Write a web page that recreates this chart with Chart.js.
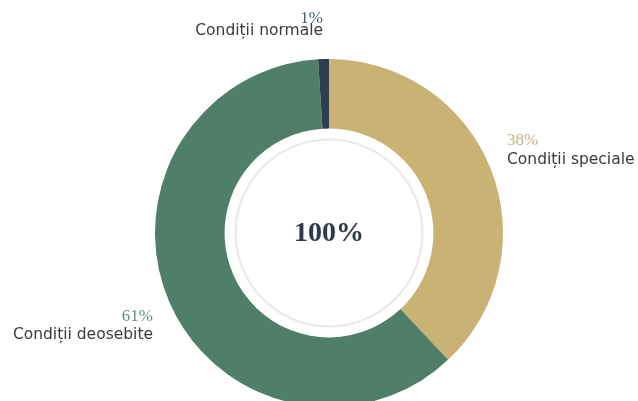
<!DOCTYPE html>
<html>
<head>
<meta charset="utf-8">
<script src="https://cdn.jsdelivr.net/npm/chart.js@4/dist/chart.umd.min.js"></script>
<style>
  html, body { margin: 0; padding: 0; background: #ffffff; overflow: hidden; }
  #wrap { position: absolute; left: 0; top: 0; width: 638px; height: 420px; }
</style>
</head>
<body>
<div id="wrap"><canvas id="c"></canvas></div>
<script>
const categories = ["Condiții speciale", "Condiții deosebite", "Condiții normale"];
const values = [38, 61, 1];
const percentLabels = ["38%", "61%", "1%"];
const centerLabel = "100%";
const sliceColors = ["#c8b374", "#4f7f69", "#2e3e4f"];
const percentColors = ["#c9b47c", "#6a8f7e", "#4d5c6d"];

const labelPlugin = {
  id: 'labels',
  afterDraw(chart) {
    const ctx = chart.ctx;
    const meta = chart.getDatasetMeta(0);
    const arc = meta.data[0];
    const cx = arc.x, cy = arc.y;
    const R = arc.outerRadius;
    const r = arc.innerRadius;
    ctx.save();
    // inner grey ring
    ctx.beginPath();
    ctx.arc(cx, cy, r - 11, 0, Math.PI * 2);
    ctx.strokeStyle = '#e8e8e8';
    ctx.lineWidth = 2;
    ctx.stroke();
    // centre text
    ctx.fillStyle = '#2d3a4a';
    ctx.font = 'bold 28px "Liberation Serif", serif';
    ctx.textAlign = 'center';
    ctx.textBaseline = 'middle';
    ctx.fillText(centerLabel, cx, cy + 1);
    // slice labels
    const spots = [
      { x: cx + R + 4, y1: cy - 92, y2: cy - 73, align: 'left' },
      { x: cx - R - 2, y1: cy + 84, y2: cy + 102, align: 'right' },
      { x: cx - 6, y1: cy - 214, y2: cy - 202, align: 'right' }
    ];
    for (let i = 0; i < categories.length; i++) {
      const s = spots[i];
      ctx.textAlign = s.align;
      ctx.textBaseline = 'middle';
      ctx.font = '17px "Liberation Serif", serif';
      ctx.fillStyle = percentColors[i];
      ctx.fillText(percentLabels[i], s.x, s.y1);
      ctx.font = '15.5px "DejaVu Sans", sans-serif';
      ctx.fillStyle = '#3a3a3a';
      ctx.fillText(categories[i], s.x, s.y2);
    }
    ctx.restore();
  }
};

new Chart(document.getElementById('c'), {
  type: 'doughnut',
  data: {
    labels: categories,
    datasets: [{
      data: values,
      backgroundColor: sliceColors,
      borderWidth: 0,
      hoverOffset: 0
    }]
  },
  options: {
    responsive: true,
    maintainAspectRatio: false,
    animation: false,
    cutout: '60%',
    layout: { padding: { top: 59, bottom: 13, left: 155, right: 135 } },
    plugins: {
      legend: { display: false },
      tooltip: { enabled: false }
    }
  },
  plugins: [labelPlugin]
});
</script>
</body>
</html>
